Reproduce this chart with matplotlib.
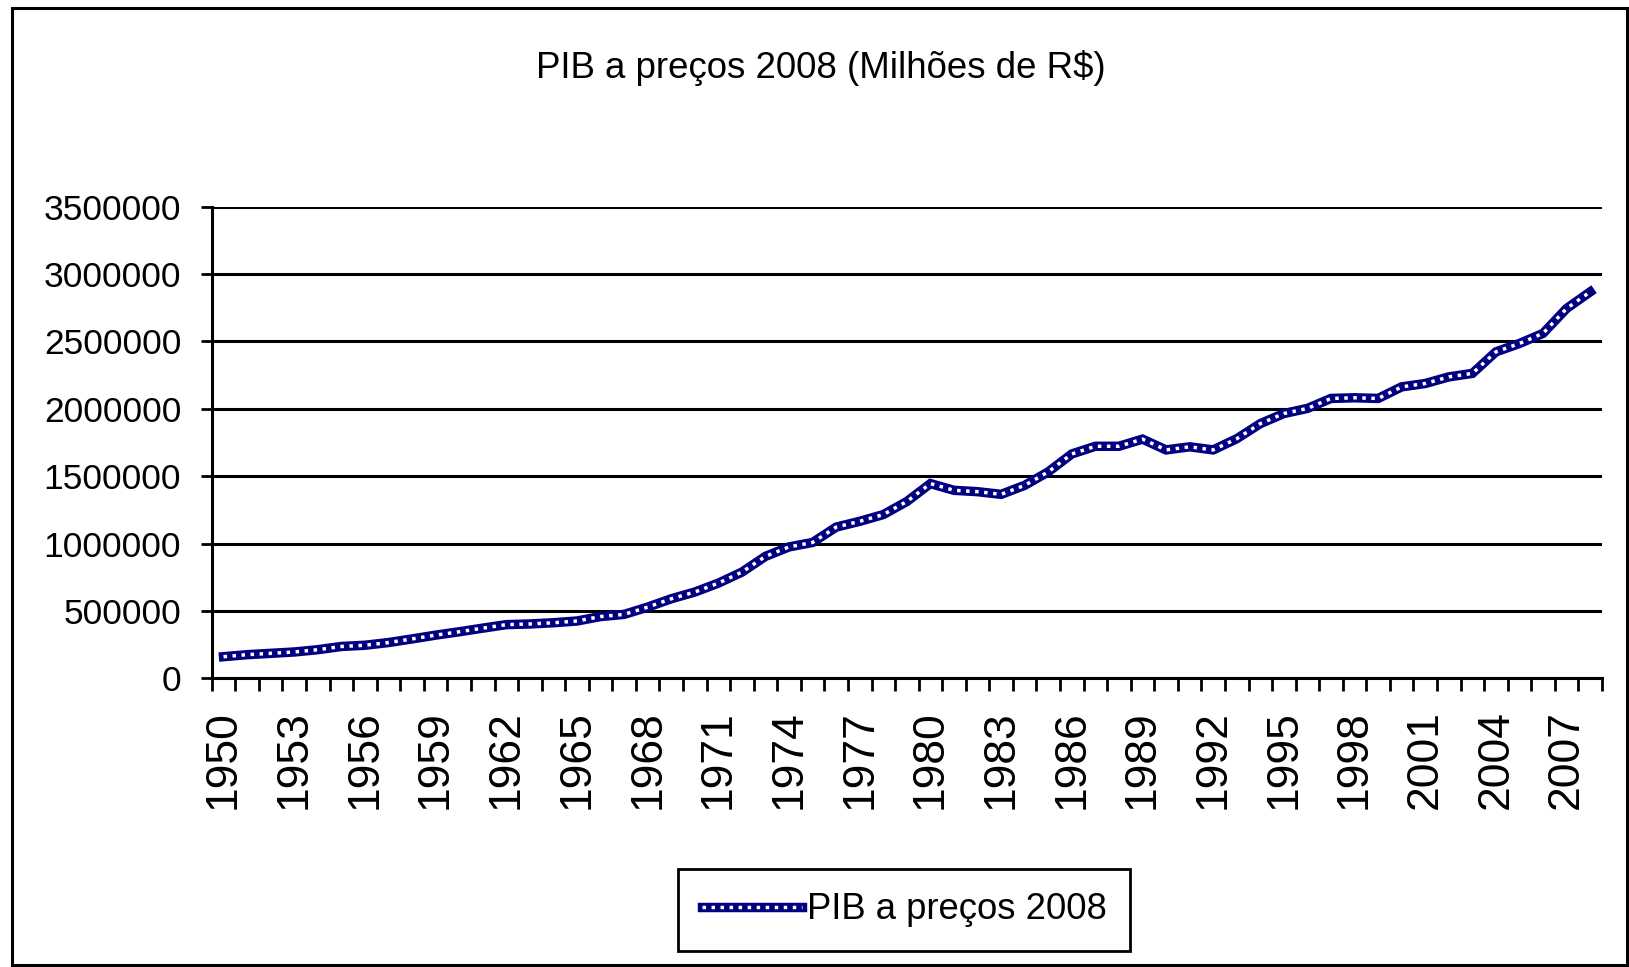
import numpy as np
import matplotlib
matplotlib.use("Agg")
import matplotlib.pyplot as plt
from matplotlib.lines import Line2D
from matplotlib.patches import Rectangle
from matplotlib.legend_handler import HandlerTuple

# --- data (milhões de R$, preços de 2008) ---
years = list(range(1950, 2009))
pib = [
    160000, 175000, 185000, 195000, 212000, 236000, 245000, 265000, 292000, 320000,
    345000, 372000, 398000, 403000, 412000, 425000, 458000, 474000, 528000, 590000,
    640000, 706000, 788000, 905000, 975000, 1008000, 1122000, 1165000, 1215000, 1312000,
    1445000, 1395000, 1385000, 1365000, 1432000, 1532000, 1665000, 1722000, 1722000, 1775000,
    1695000, 1718000, 1695000, 1778000, 1890000, 1965000, 2003000, 2077000, 2082000, 2077000,
    2163000, 2188000, 2237000, 2263000, 2423000, 2485000, 2560000, 2745000, 2868000,
]
year_labels = [str(y) for y in years[::3]]
yticks = [0, 500000, 1000000, 1500000, 2000000, 2500000, 3000000, 3500000]

title = "PIB a preços 2008 (Milhões de R$)"
series_name = "PIB a preços 2008"

FONT = ["Liberation Sans", "DejaVu Sans"]
NAVY = "#000080"
LINE_W = 6.8      # navy body of the pattern line
DOT_W = 2.5       # white squares
DOT_DASH = [1.0, 1.6]

fig = plt.figure(figsize=(16.29, 9.67), dpi=100)
ax = fig.add_axes([0.130, 0.2986, 0.8534, 0.4876])

x = np.arange(len(years))
# thick navy line with white squares on top (Excel pattern line)
ax.plot(x, pib, color=NAVY, lw=LINE_W, solid_joinstyle="miter", zorder=3)
dots, = ax.plot(x, pib, color="white", lw=DOT_W, zorder=4, dash_capstyle="butt")
dots.set_dashes(DOT_DASH)

ax.set_xlim(-0.5, len(years) - 0.5)
ax.set_ylim(0, 3500000)

# y axis
ax.set_yticks(yticks)
ax.set_yticklabels([str(v) for v in yticks], family=FONT, fontsize=25.5)
ax.yaxis.grid(True, color="black", lw=2.2)
ax.set_axisbelow(True)
ax.tick_params(axis="y", length=8, width=2, direction="out", pad=14)

# x axis: tick marks between categories, labels every 3 years
ax.set_xticks(np.arange(len(years) + 1) - 0.5)
ax.set_xticklabels([])
ax.tick_params(axis="x", which="major", length=9, width=2, direction="out")
ax.set_xticks(x[::3], minor=True)
ax.set_xticklabels(year_labels, minor=True, rotation=90, family=FONT,
                   fontsize=32, va="top", ha="center")
ax.tick_params(axis="x", which="minor", length=0, pad=23)

for s in ["top", "right"]:
    ax.spines[s].set_visible(False)
ax.spines["left"].set_linewidth(2.2)
ax.spines["bottom"].set_linewidth(2.2)

fig.text(0.504, 0.930, title, ha="center", va="center", family=FONT, fontsize=26.4)

# legend
h1 = Line2D([], [], color=NAVY, lw=LINE_W)
h2 = Line2D([], [], color="white", lw=DOT_W, dashes=DOT_DASH, dash_capstyle="butt")
leg = fig.legend([(h1, h2)], [series_name],
                 handler_map={tuple: HandlerTuple(ndivide=1, pad=0)},
                 loc="center", bbox_to_anchor=(0.555, 0.059), fancybox=False,
                 edgecolor="black", framealpha=1, handlelength=2.75, handletextpad=0.12,
                 borderpad=0.65, prop={"family": FONT, "size": 26.3})
leg.get_frame().set_linewidth(2)

# outer chart border
fig.patches.append(Rectangle((0.0072, 0.002), 0.9915, 0.990, transform=fig.transFigure,
                             fill=False, edgecolor="black", lw=2.2))

fig.savefig("out.png", dpi=100)
